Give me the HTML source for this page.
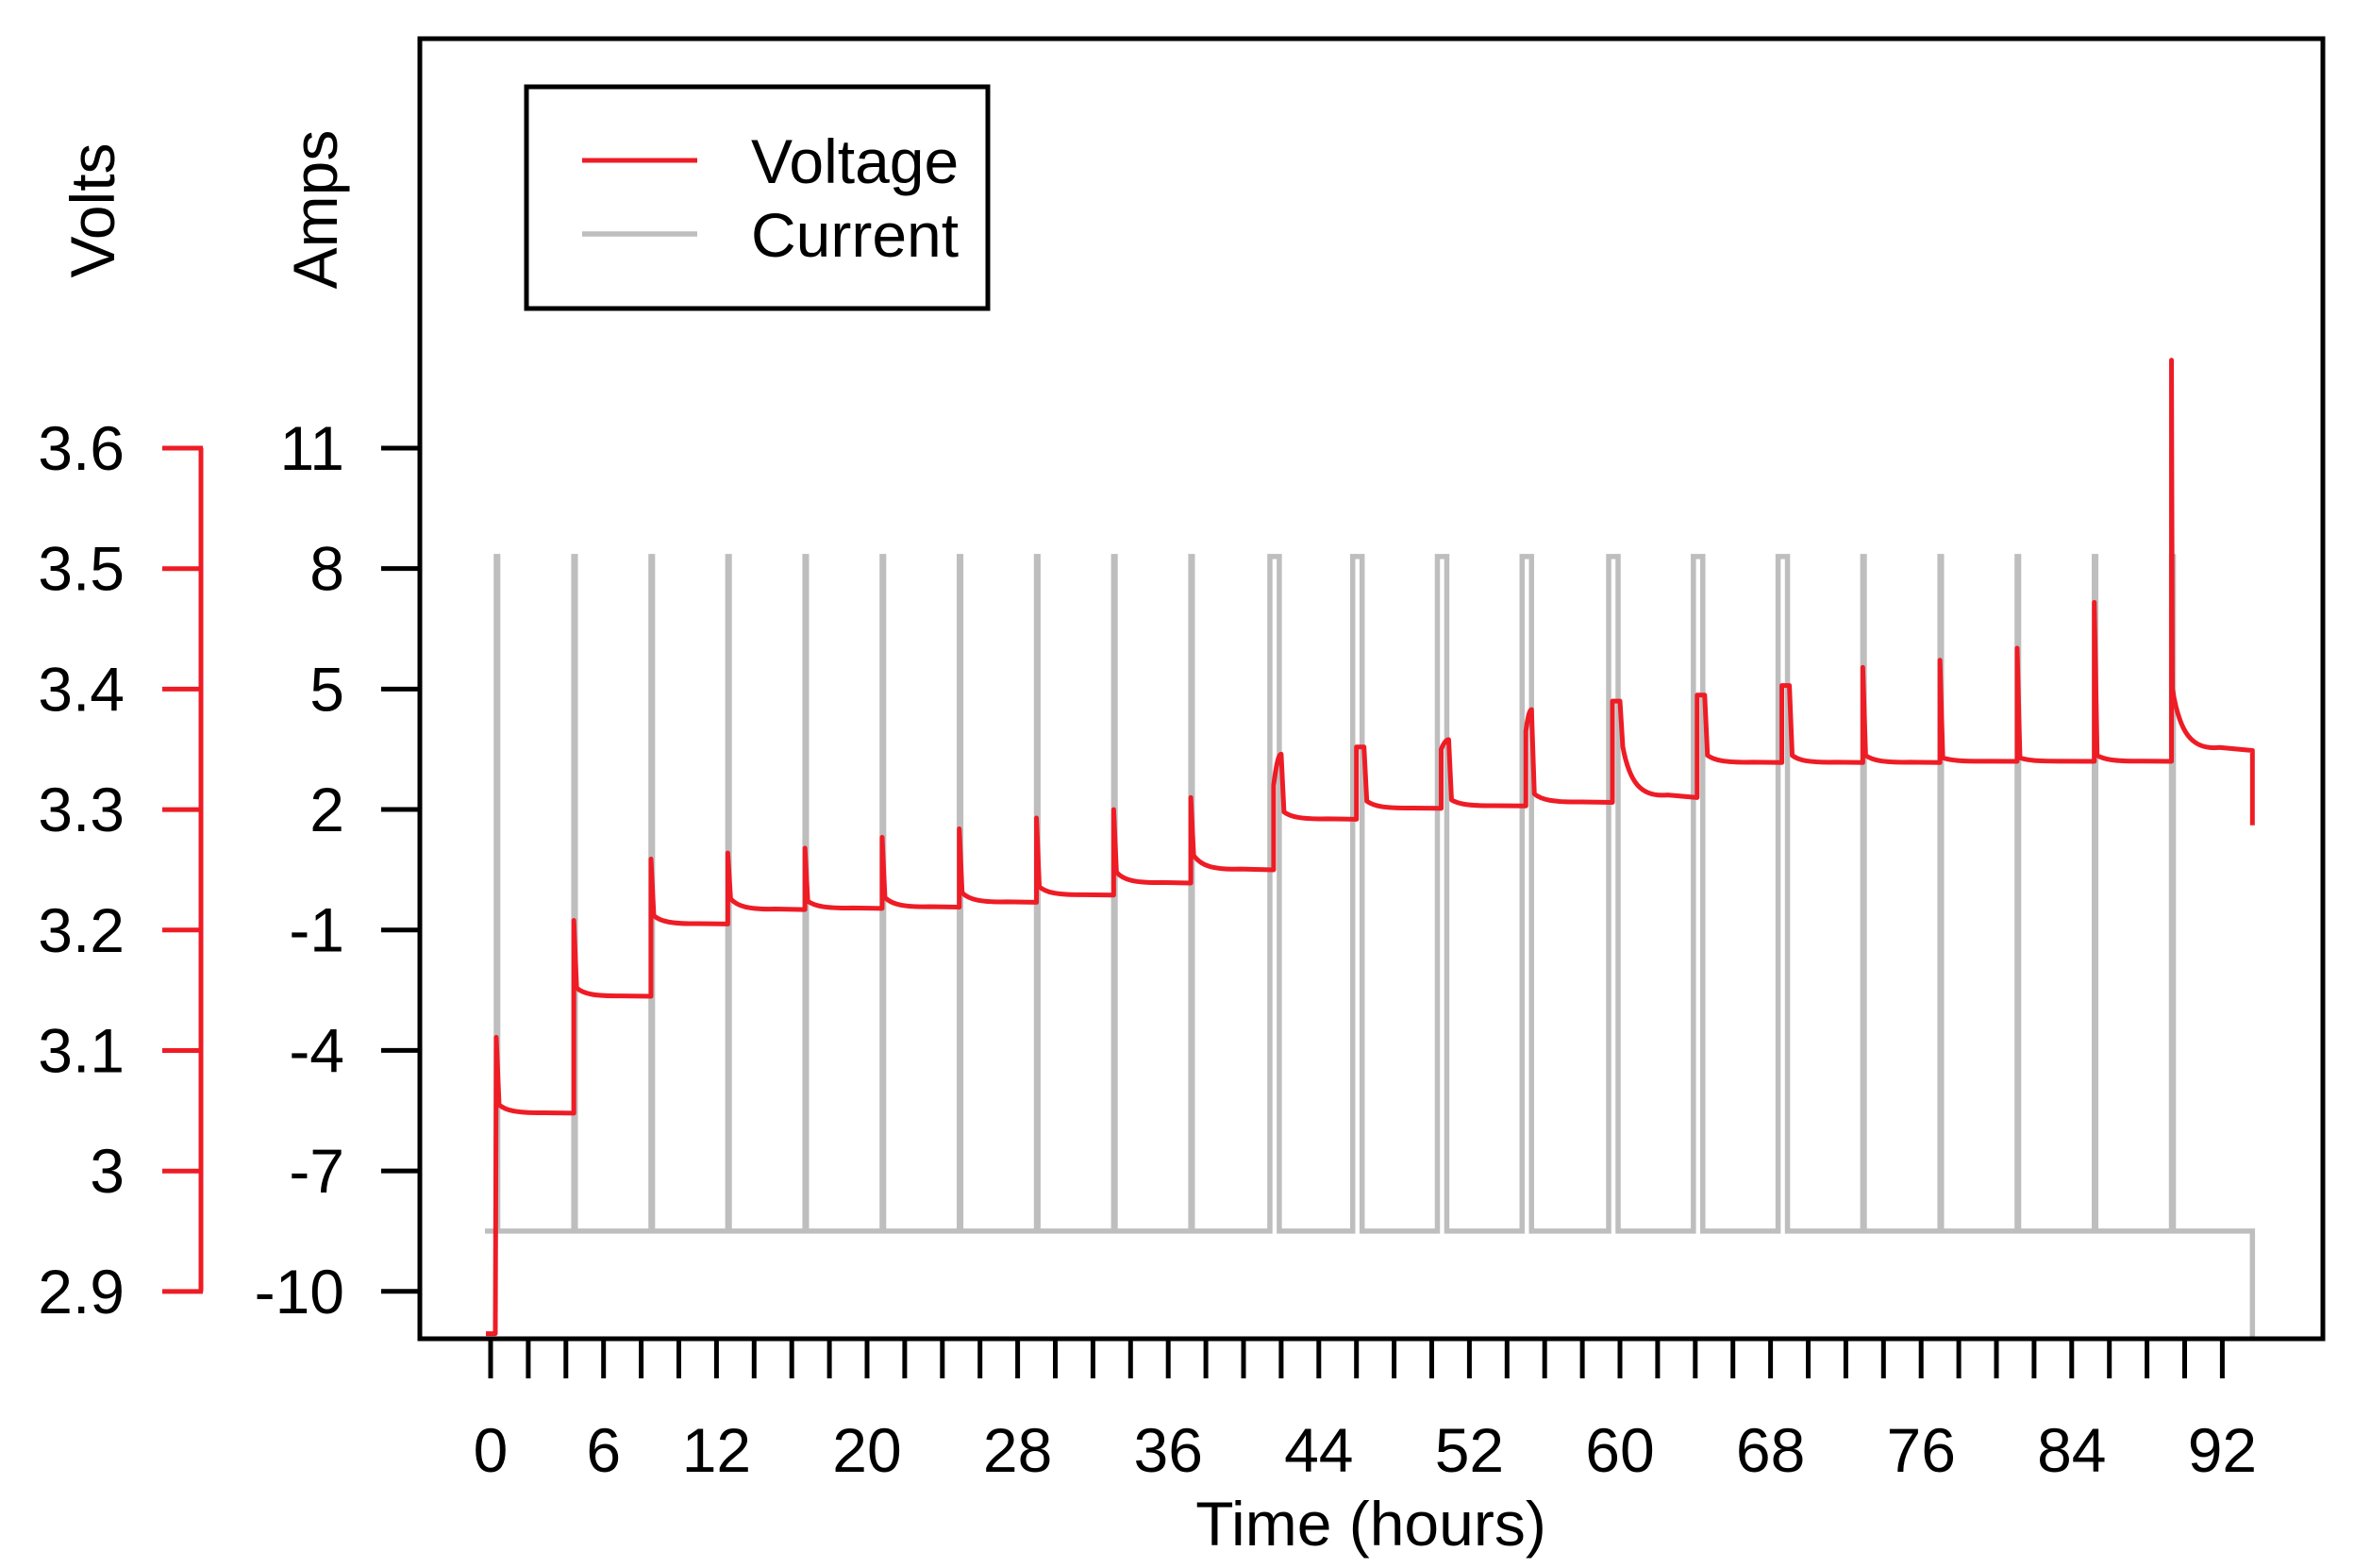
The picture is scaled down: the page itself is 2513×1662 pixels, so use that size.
<!DOCTYPE html>
<html><head><meta charset="utf-8"><title>Voltage and Current vs Time</title>
<style>
html,body{margin:0;padding:0;background:#fff;}
svg{display:block;font-family:"Liberation Sans",Arial,sans-serif;}
</style></head>
<body>
<svg id="chart" width="2513" height="1662" viewBox="0 0 2513 1662" xmlns="http://www.w3.org/2000/svg">
  <rect x="0" y="0" width="2513" height="1662" fill="#fff"/>
  <g id="series"></g>
  <g id="axes"></g>
  <rect x="445" y="41" width="2017" height="1378" fill="none" stroke="#000" stroke-width="5"/>
  <text x="121" y="223" font-size="66" text-anchor="middle" transform="rotate(-90 121 223)">Volts</text>
  <text x="357" y="222" font-size="66" text-anchor="middle" transform="rotate(-90 357 222)">Amps</text>
  <text x="1453" y="1638" font-size="66" text-anchor="middle">Time (hours)</text>
  <g>
    <rect x="558" y="92" width="489" height="235" fill="#fff" stroke="#000" stroke-width="5"/>
    <line x1="617" y1="170" x2="739" y2="170" stroke="#ee1c25" stroke-width="5"/>
    <line x1="617" y1="248" x2="739" y2="248" stroke="#bebebe" stroke-width="5.5"/>
    <text x="796" y="194" font-size="66">Voltage</text>
    <text x="796" y="272" font-size="66">Current</text>
  </g>
</svg>
<script>
// ---- data ----
const xTickValues = [0,2,4,6,8,10,12,14,16,18,20,22,24,26,28,30,32,34,36,38,40,42,44,46,48,50,52,54,56,58,60,62,64,66,68,70,72,74,76,78,80,82,84,86,88,90,92];
const xTickLabels = [0,6,12,20,28,36,44,52,60,68,76,84,92];
const ampTicks = [11,8,5,2,-1,-4,-7,-10];
const voltTicks = [3.6,3.5,3.4,3.3,3.2,3.1,3.0,2.9];
const voltTickLabels = ["3.6","3.5","3.4","3.3","3.2","3.1","3","2.9"];
// current pulses
const pulseTimes = [0.3,4.42,8.52,12.6,16.7,20.8,24.9,29.0,33.1,37.2,41.4,45.8,50.3,54.8,59.4,63.9,68.4,72.9,77.0,81.1,85.2,89.3];
const pulseWidths = [0.08,0.08,0.08,0.08,0.08,0.08,0.08,0.08,0.08,0.08,0.5,0.5,0.5,0.5,0.5,0.5,0.5,0.08,0.08,0.08,0.08,0.1];
const currentHigh = 8.3;
const currentLow = -8.5;
const currentStart = -0.3;
const currentEnd = 93.6;
const currentFinal = -11.2;
// voltage cycles
const cycleTimes = [0.3,4.42,8.52,12.6,16.7,20.8,24.9,29.0,33.1,37.2,41.6,46.0,50.5,55.0,59.6,64.1,68.6,72.9,77.0,81.1,85.2,89.3];
const spikeVolts = [3.111,3.208,3.259,3.264,3.268,3.277,3.284,3.293,3.300,3.310,3.346,3.352,3.358,3.383,3.390,3.395,3.403,3.418,3.424,3.434,3.472,3.673];
const riseVolts = [3.111,3.208,3.259,3.264,3.268,3.277,3.284,3.293,3.300,3.310,3.320,3.352,3.350,3.365,3.390,3.395,3.403,3.418,3.424,3.434,3.472,3.673];
const afterVolts = [3.055,3.152,3.212,3.226,3.224,3.227,3.231,3.236,3.248,3.262,3.298,3.307,3.308,3.313,3.352,3.345,3.345,3.345,3.343,3.343,3.345,3.400];
const settleVolts = [3.048,3.145,3.205,3.217,3.218,3.219,3.223,3.229,3.239,3.250,3.292,3.301,3.303,3.306,3.310,3.339,3.339,3.339,3.340,3.340,3.340,3.349];
const holdHours = [0,0,0,0,0,0,0,0,0,0,0.4,0.4,0.4,0.3,0.4,0.4,0.4,0,0,0,0,0];
const voltStart = 2.865;
const voltStartTime = -0.25;
const voltEndTime = 93.6;
const voltFinal = 3.287;

// ---- scales ----
const X = t => 520 + 19.95 * t;
const YA = a => 475 + (11 - a) * 42.56;
const YV = v => 475 + (3.6 - v) * 1277;
const NS = "http://www.w3.org/2000/svg";
const series = document.getElementById('series');
const axes = document.getElementById('axes');
function mk(tag, attrs, parent) {
  const e = document.createElementNS(NS, tag);
  for (const k in attrs) e.setAttribute(k, attrs[k]);
  parent.appendChild(e);
  return e;
}

// current path
let dc = `M${X(currentStart)},${YA(currentLow)}`;
pulseTimes.forEach((p, i) => {
  const w = pulseWidths[i];
  dc += ` L${X(p)},${YA(currentLow)} L${X(p)},${YA(currentHigh)} L${X(p + w)},${YA(currentHigh)} L${X(p + w)},${YA(currentLow)}`;
});
dc += ` L${X(currentEnd)},${YA(currentLow)} L${X(currentEnd)},${YA(currentFinal)}`;
const cur = mk('path', {d: dc, fill: 'none', stroke: '#bebebe', 'stroke-width': 5.5, 'stroke-linejoin': 'miter'}, series);



// voltage path
let dv = `M${X(voltStartTime)},${YV(voltStart)} L${X(cycleTimes[0] - 0.05)},${YV(voltStart)}`;
cycleTimes.forEach((t0, i) => {
  const tEnd = i < cycleTimes.length - 1 ? cycleTimes[i + 1] : voltEndTime;
  const h = holdHours[i];
  const s = settleVolts[i], a = afterVolts[i];
  dv += ` L${X(t0)},${YV(riseVolts[i])}`;
  if (h > 0) dv += ` Q${X(t0 + h * 0.5)},${YV(spikeVolts[i])} ${X(t0 + h)},${YV(spikeVolts[i])}`;
  else dv += ` L${X(t0)},${YV(spikeVolts[i])}`;
  const ta = t0 + h + (i === cycleTimes.length - 1 ? 0.05 : 0.15);
  dv += ` L${X(ta)},${YV(a)}`;
  const span = Math.min(2.5, (tEnd - ta) * 0.6);
  dv += ` C${X(ta + span * 0.15)},${YV(s + (a - s) * 0.3)} ${X(ta + span * 0.4)},${YV(s)} ${X(ta + span)},${YV(s + (a - s) * 0.05)}`;
  dv += ` L${X(tEnd)},${YV(s)}`;
});
dv += ` L${X(voltEndTime)},${YV(voltFinal)}`;
const vol = mk('path', {d: dv, fill: 'none', stroke: '#ee1c25', 'stroke-width': 5, 'stroke-linejoin': 'round'}, series);



// x ticks
xTickValues.forEach(v => {
  const l = mk('line', {x1: X(v), x2: X(v), y1: 1419, y2: 1461, stroke: '#000', 'stroke-width': 5}, axes);
  
  
});
xTickLabels.forEach(v => {
  const t = mk('text', {x: X(v), y: 1560, 'font-size': 66, 'text-anchor': 'middle'}, axes);
  t.textContent = v;
  
  
});
// amps axis
ampTicks.forEach(v => {
  const l = mk('line', {x1: 404, x2: 445, y1: YA(v), y2: YA(v), stroke: '#000', 'stroke-width': 5}, axes);
  
  
  const t = mk('text', {x: 365, y: YA(v) + 23, 'font-size': 66, 'text-anchor': 'end'}, axes);
  t.textContent = v;
  
  
});
// volts axis
const vl = mk('line', {x1: 213, x2: 213, y1: YV(voltTicks[0]), y2: YV(voltTicks[voltTicks.length - 1]), stroke: '#ee1c25', 'stroke-width': 5}, axes);


voltTicks.forEach((v, i) => {
  const l = mk('line', {x1: 172, x2: 215, y1: YV(v), y2: YV(v), stroke: '#ee1c25', 'stroke-width': 5}, axes);
  
  
  const t = mk('text', {x: 132, y: YV(v) + 23, 'font-size': 66, 'text-anchor': 'end'}, axes);
  t.textContent = voltTickLabels[i];
  
  
});
</script>
</body></html>
